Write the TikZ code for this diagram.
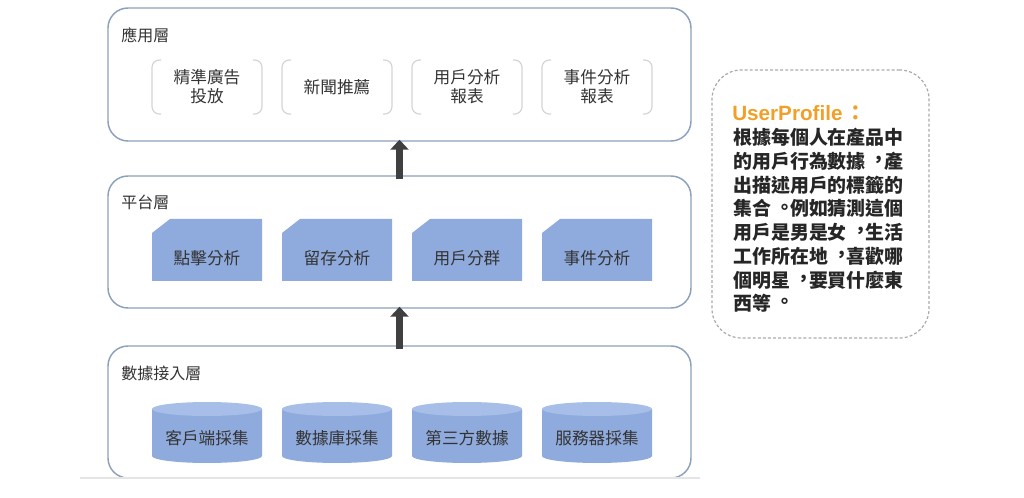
\documentclass[tikz,border=0pt]{standalone}
\usepackage{fontspec}
\setmainfont{Noto Sans CJK TC}
\newfontfamily\latinbold{Liberation Sans}
\usetikzlibrary{arrows.meta,fit}
\newcommand\cpun[1]{\makebox[1em][l]{\hspace*{0.22em}\raisebox{0.1em}{#1}}}
\definecolor{layerline}{RGB}{140,160,188}
\definecolor{bluefill}{RGB}{143,170,220}
\definecolor{cyltop}{RGB}{166,190,232}
\definecolor{bracketgray}{RGB}{212,212,212}
\definecolor{txt}{RGB}{51,51,51}
\definecolor{orangetxt}{RGB}{240,160,40}
\definecolor{arrowgray}{RGB}{64,64,64}
\definecolor{dashgray}{RGB}{170,170,170}
\tikzset{
  x=0.75pt, y=0.75pt,
  layerbox/.style={draw=layerline, line width=1.1pt, rounded corners=15pt, inner sep=0pt},
  layerlabel/.style={anchor=west, inner sep=0pt, text=txt, font=\fontsize{12}{14}\selectfont},
  itemtext/.style={inner sep=0pt, text=txt, align=center, font=\fontsize{12.5}{14.3}\selectfont},
  bracketline/.style={draw=bracketgray, line width=0.9pt, rounded corners=5.5pt},
  bigarrow/.style={draw=arrowgray, line width=5.5pt, -{Triangle[length=7.5pt,width=13.5pt]}},
  notebox/.style={draw=dashgray, line width=0.9pt, dash pattern=on 2.2pt off 1.6pt, rounded corners=22pt, inner sep=0pt},
}
\begin{document}
\begin{tikzpicture}
\useasboundingbox (0,0) rectangle (1024,-498);
% layer boxes
\node[layerbox, fit={(108,-8) (691,-141)}] (app) {};
\node[layerbox, fit={(108,-176) (691,-308)}] (plat) {};
\node[layerbox, fit={(108,-346) (691,-478)}] (data) {};
\draw[white!80!gray, line width=0.8pt] (80,-478) -- (700,-478);
% layer labels
\node[layerlabel] (lapp) at (121,-35) {應用層};
\node[layerlabel] (lplat) at (121,-202) {平台層};
\node[layerlabel] (ldata) at (121,-373) {數據接入層};
% application items (bracket pairs)
\foreach \x/\nm/\t in {152/a1/{精準廣告\\投放}, 282/a2/{新聞推薦}, 412/a3/{用戶分析\\報表}, 542/a4/{事件分析\\報表}} {
  \draw[bracketline] (\x+9,-60) -- (\x,-60) -- (\x,-114) -- (\x+9,-114);
  \draw[bracketline] (\x+101,-60) -- (\x+110,-60) -- (\x+110,-114) -- (\x+101,-114);
  \node[itemtext] (\nm) at (\x+55,-87) {\t};
}
% platform items (cut-corner boxes)
\foreach \x/\nm/\t in {152/p1/點擊分析, 282/p2/留存分析, 412/p3/用戶分群, 542/p4/事件分析} {
  \fill[bluefill] (\x,-233) -- (\x+18,-219) -- (\x+110,-219) -- (\x+110,-281) -- (\x,-281) -- cycle;
  \node[itemtext] (\nm) at (\x+55,-258) {\t};
}
% data items (cylinders)
\foreach \x/\nm/\t in {152/d1/客戶端採集, 282/d2/數據庫採集, 412/d3/第三方數據, 542/d4/服務器採集} {
  \fill[bluefill] (\x,-409) -- (\x,-456) arc[start angle=180, end angle=360, x radius=55, y radius=7] -- (\x+110,-409) -- cycle;
  \fill[cyltop] (\x+55,-409) ellipse[x radius=55, y radius=7];
  \node[itemtext] (\nm) at (\x+55,-438) {\t};
}
% arrows
\draw[bigarrow] ([yshift=-3pt]plat.north) -- ([yshift=1.5pt]app.south);
\draw[bigarrow] ([yshift=-3pt]data.north) -- ([yshift=1.5pt]plat.south);
% note box
\node[notebox, fit={(712,-70) (929,-338)}] (note) {};
\node[anchor=west, inner sep=0pt, text=orangetxt, font=\fontsize{15.5}{18}\selectfont] (title) at (732,-113) {{\latinbold\bfseries UserProfile}\hspace{0.15em}{\bfseries ：}};
\node[anchor=north west, align=left, inner sep=0pt, text=black!85, font=\fontsize{14.2}{17.8}\selectfont\bfseries] (body) at (733,-128) {根據每個人在產品中\\的用戶行為數據\cpun{，}產\\出描述用戶的標籤的\\集合\cpun{。}例如猜測這個\\用戶是男是女\cpun{，}生活\\工作所在地\cpun{，}喜歡哪\\個明星\cpun{，}要買什麼東\\西等\cpun{。}};
\end{tikzpicture}
\end{document}
